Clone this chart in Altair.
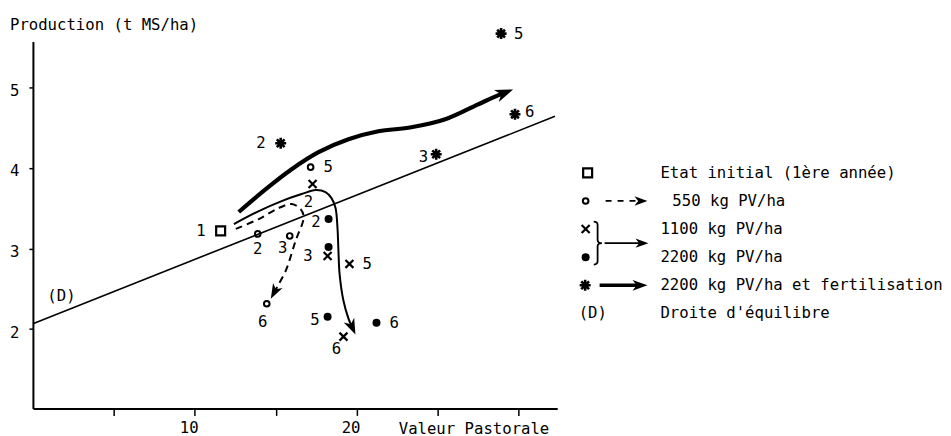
import math
import altair as alt
import pandas as pd

FONT = "DejaVu Sans Mono"
FS = 15.7
INK = "black"

# ---------------- axes ----------------
X_DOMAIN = [0, 32.4]
Y_DOMAIN = [1.015, 5.569]
W, H = 526, 368
X_TICKS = [5, 10, 15, 20, 25, 30]
X_LABELLED = [10, 20]
Y_TICKS = [2, 3, 4, 5]
X_TITLE = "Valeur Pastorale"
Y_TITLE = "Production (t MS/ha)"

# ---------------- observed points (x = valeur pastorale, y = production) ----
init_x = [11.60]
init_y = [3.218]
init_lab = ["1"]
init_side = ["LL"]

c550_x = [13.89, 15.87, 17.16, 14.45]
c550_y = [3.181, 3.156, 4.010, 2.314]
c550_lab = ["2", "3", "5", "6"]
c550_side = ["B", "BL", "RR", "BB"]

c1100_x = [17.28, 18.21, 19.56, 19.19]
c1100_y = [3.800, 2.908, 2.809, 1.906]
c1100_lab = ["2", "3", "5", "6"]
c1100_side = ["BB", "LL", "RR", "BL"]

c2200_x = [18.27, 18.27, 18.21, 21.23]
c2200_y = [3.366, 3.020, 2.153, 2.079]
c2200_lab = ["2", "", "5", "6"]
c2200_side = ["L", "L", "L", "RR"]

fert_x = [15.31, 24.92, 28.93, 29.79]
fert_y = [4.307, 4.171, 5.668, 4.666]
fert_lab = ["2", "3", "5", "6"]
fert_side = ["LL", "L", "RR", "R"]

# droite d'équilibre (D)
d_x = [0.0, 32.26]
d_y = [2.067, 4.641]
d_lab_x = [0.89]
d_lab_y = [2.413]
d_lab = ["(D)"]

# trajectories (path points, then arrow tip)
thick_x = [12.72, 14.39, 15.99, 17.65, 19.50, 21.35, 23.38, 25.48, 27.51, 28.74, 29.21]
thick_y = [3.453, 3.738, 3.985, 4.196, 4.356, 4.455, 4.505, 4.604, 4.790, 4.901, 4.938]
thick_tip = (29.67, 4.975)

thin_x = [12.42, 13.96, 15.37, 16.61, 17.47, 18.08, 18.45, 18.70, 18.82, 18.88, 18.95, 19.19, 19.50, 19.73]
thin_y = [3.304, 3.465, 3.589, 3.676, 3.725, 3.700, 3.626, 3.502, 3.255, 2.970, 2.686, 2.351, 2.129, 2.021]
thin_tip = (19.93, 1.931)

dash_x = [12.54, 13.96, 15.19, 15.99, 16.54, 16.73, 16.23, 15.62, 15.13, 14.93]
dash_y = [3.243, 3.366, 3.502, 3.552, 3.490, 3.391, 3.094, 2.723, 2.537, 2.463]
dash_tip = (14.70, 2.376)

# ---------------- legend ----------------
LEG_X = [0, 370]
LEG_ROWS = [-4.670, 8.379]
leg_series = ["init", "c550", "c1100", "c2200", "fert"]
leg_sym_row = [0, 1, 2, 3, 4]
leg_sym_col = [20.5, 18.5, 18.5, 18.5, 18.0]
leg_text = ["Etat initial (1ère année)", "550 kg PV/ha", "1100 kg PV/ha",
            "2200 kg PV/ha", "2200 kg PV/ha et fertilisation", "(D)",
            "Droite d'équilibre"]
leg_text_row = [0, 1, 2, 3, 4, 5, 5]
leg_text_col = [93.5, 105.5, 93.5, 93.5, 93.5, 11.5, 93.5]
leg_dash = ([38.5, 72.0], [1, 1], (80.5, 1))
leg_thin = ([37.5, 73.5], [2.5, 2.5], (81.5, 2.5))
leg_thick = ([32.5, 72.5], [4, 4], (80.5, 4))
leg_brace = ([30.5], [2.5])

# ---------------- styles ----------------
CROSS = "M-1,-1L1,1M-1,1L1,-1"
AST = "M-1,0L1,0M0,-1L0,1M-0.71,-0.71L0.71,0.71M-0.71,0.71L0.71,-0.71"
HEAD = "M0,0L-1,-0.36L-0.72,0L-1,0.36Z"
BRACE = "M-0.18,-1Q0,-1,0,-0.85L0,-0.15Q0,0,0.2,0Q0,0,0,0.15L0,0.85Q0,1,-0.18,1"

STYLE = {
    "init": dict(shape="square", filled=False, size=81, strokeWidth=2.2),
    "c550": dict(shape="circle", filled=False, size=32, strokeWidth=2.0),
    "c1100": dict(shape=CROSS, filled=False, size=64, strokeWidth=2.2),
    "c2200": dict(shape="circle", filled=True, size=64),
    "fert": dict(shape=AST, filled=False, size=121, strokeWidth=2.6),
}
SIDES = {
    "L": dict(align="right", dx=-8, dy=3),
    "LL": dict(align="right", dx=-15, dy=0),
    "R": dict(align="left", dx=10, dy=-2),
    "RR": dict(align="left", dx=13, dy=0),
    "B": dict(align="center", dx=0, dy=15),
    "BB": dict(align="center", dx=-4, dy=18),
    "BL": dict(align="center", dx=-7, dy=12),
}

# ---------------- data tables ----------------
rows = []
for s, xs, ys, ls, ss in [("init", init_x, init_y, init_lab, init_side),
                          ("c550", c550_x, c550_y, c550_lab, c550_side),
                          ("c1100", c1100_x, c1100_y, c1100_lab, c1100_side),
                          ("c2200", c2200_x, c2200_y, c2200_lab, c2200_side),
                          ("fert", fert_x, fert_y, fert_lab, fert_side)]:
    for x, y, l, sd in zip(xs, ys, ls, ss):
        rows.append(dict(series=s, x=x, y=y, label=l, side=sd))
pts = pd.DataFrame(rows)

kx = W / (X_DOMAIN[1] - X_DOMAIN[0])
ky = H / (Y_DOMAIN[1] - Y_DOMAIN[0])


def heading(px, py, tx, ty, sx, sy):
    return math.degrees(math.atan2(-(ty - py) * sy, (tx - px) * sx)) % 360


prow, hrow = [], []
for name, xs, ys, tip in [("thick", thick_x, thick_y, thick_tip),
                          ("thin", thin_x, thin_y, thin_tip),
                          ("dash", dash_x, dash_y, dash_tip)]:
    for i, (x, y) in enumerate(zip(xs, ys)):
        prow.append(dict(path=name, i=i, x=x, y=y))
    hrow.append(dict(path=name, x=tip[0], y=tip[1],
                     ang=heading(xs[-1], ys[-1], tip[0], tip[1], kx, ky)))
paths = pd.DataFrame(prow)
heads = pd.DataFrame(hrow)
dline = pd.DataFrame({"x": d_x, "y": d_y})
dlab = pd.DataFrame({"x": d_lab_x, "y": d_lab_y, "label": d_lab})

x_axis = alt.Axis(values=X_TICKS,
                  labelExpr=f"indexof({X_LABELLED}, datum.value) >= 0 ? datum.label : ''",
                  title=X_TITLE, titleX=366.5, titleY=25, titleAlign="left",
                  titleBaseline="alphabetic", tickSize=7, tickWidth=1.5,
                  labelPadding=5, labelOffset=-6, domainWidth=2, grid=False,
                  labelFlush=False)
y_axis = alt.Axis(values=Y_TICKS, title=Y_TITLE, titleAngle=0, titleAlign="left",
                  titleBaseline="alphabetic", titleX=-23.5, titleY=-12,
                  tickSize=4, tickWidth=1.5, labelPadding=10, labelOffset=3,
                  domainWidth=2, grid=False)


def X():
    return alt.X("x:Q", scale=alt.Scale(domain=X_DOMAIN, nice=False, zero=False), axis=x_axis)


def Y():
    return alt.Y("y:Q", scale=alt.Scale(domain=Y_DOMAIN, nice=False, zero=False), axis=y_axis)


layers = []
layers.append(alt.Chart(dline).mark_line(color=INK, strokeWidth=1.6).encode(X(), Y()))
layers.append(alt.Chart(dlab).mark_text(align="left", baseline="middle").encode(X(), Y(), text="label:N"))

PATH_STYLE = {
    "thick": dict(strokeWidth=4.2),
    "thin": dict(strokeWidth=2.0),
    "dash": dict(strokeWidth=2.0, strokeDash=[7, 5]),
}
HEAD_SIZE = {"thick": 1296, "thin": 1024, "dash": 900}
for name, st in PATH_STYLE.items():
    layers.append(alt.Chart(paths).transform_filter(alt.datum.path == name)
                  .mark_line(color=INK, interpolate="catmull-rom", **st)
                  .encode(X(), Y(), order="i:Q"))
    layers.append(alt.Chart(heads).transform_filter(alt.datum.path == name)
                  .mark_point(shape=HEAD, filled=True, color=INK, opacity=1, size=HEAD_SIZE[name])
                  .encode(X(), Y(), angle=alt.Angle("ang:Q", scale=None)))

for s, st in STYLE.items():
    layers.append(alt.Chart(pts).transform_filter(alt.datum.series == s)
                  .mark_point(color=INK, opacity=1, **st).encode(X(), Y()))

for code, st in SIDES.items():
    layers.append(alt.Chart(pts)
                  .transform_filter((alt.datum.side == code) & (alt.datum.label != ""))
                  .mark_text(baseline="middle", **st)
                  .encode(X(), Y(), text="label:N"))

main = alt.layer(*layers).properties(width=W, height=H)

# ---------------- legend panel ----------------
lsx = LEG_X[1] - LEG_X[0]
lkx = 370 / lsx
lky = H / (LEG_ROWS[1] - LEG_ROWS[0])


def LX():
    return alt.X("lx:Q", scale=alt.Scale(domain=LEG_X, nice=False, zero=False), axis=None)


def LY():
    return alt.Y("row:Q", scale=alt.Scale(domain=LEG_ROWS, nice=False, zero=False, reverse=True), axis=None)


leg_sym = pd.DataFrame({"series": leg_series, "lx": leg_sym_col, "row": leg_sym_row})
leg_txt = pd.DataFrame({"label": leg_text, "lx": leg_text_col, "row": leg_text_row})
lrows, lheads = [], []
for name, (xs, ys, tip) in [("dash", leg_dash), ("thin", leg_thin), ("thick", leg_thick)]:
    for i, (x, y) in enumerate(zip(xs, ys)):
        lrows.append(dict(path=name, i=i, lx=x, row=y))
    lheads.append(dict(path=name, lx=tip[0], row=tip[1],
                       ang=heading(xs[-1], -ys[-1], tip[0], -tip[1], lkx, lky)))
leg_paths = pd.DataFrame(lrows)
leg_heads = pd.DataFrame(lheads)
leg_br = pd.DataFrame({"lx": leg_brace[0], "row": leg_brace[1]})

LEG_PATH_STYLE = {
    "thick": dict(strokeWidth=3.6),
    "thin": dict(strokeWidth=1.8),
    "dash": dict(strokeWidth=1.8, strokeDash=[6, 6]),
}
LEG_HEAD_SIZE = {"thick": 900, "thin": 676, "dash": 676}

leg_layers = []
for s, st in STYLE.items():
    leg_layers.append(alt.Chart(leg_sym).transform_filter(alt.datum.series == s)
                      .mark_point(color=INK, opacity=1, **st).encode(LX(), LY()))
for name, st in LEG_PATH_STYLE.items():
    leg_layers.append(alt.Chart(leg_paths).transform_filter(alt.datum.path == name)
                      .mark_line(color=INK, **st).encode(LX(), LY(), order="i:Q"))
    leg_layers.append(alt.Chart(leg_heads).transform_filter(alt.datum.path == name)
                      .mark_point(shape=HEAD, filled=True, color=INK, opacity=1,
                                  size=LEG_HEAD_SIZE[name])
                      .encode(LX(), LY(), angle=alt.Angle("ang:Q", scale=None)))
leg_layers.append(alt.Chart(leg_br).mark_point(shape=BRACE, filled=False, color=INK, opacity=1,
                                               size=1849, strokeWidth=1.8)
                  .encode(LX(), LY()))
leg_layers.append(alt.Chart(leg_txt).mark_text(align="left", baseline="middle")
                  .encode(LX(), LY(), text="label:N"))

legend = alt.layer(*leg_layers).properties(width=370, height=H)

chart = (alt.hconcat(main, legend, spacing=10, bounds="flush")
         .properties(padding={"left": 1, "top": 8, "right": 0, "bottom": 0})
         .configure_view(stroke=None)
         .configure_axis(labelFont=FONT, titleFont=FONT, labelFontSize=FS, titleFontSize=FS,
                         labelColor=INK, titleColor=INK, domainColor=INK, tickColor=INK,
                         titleFontWeight="normal")
         .configure_text(font=FONT, fontSize=FS, color=INK))

chart.save("out.html", embed_options={"renderer": "svg", "actions": False})
